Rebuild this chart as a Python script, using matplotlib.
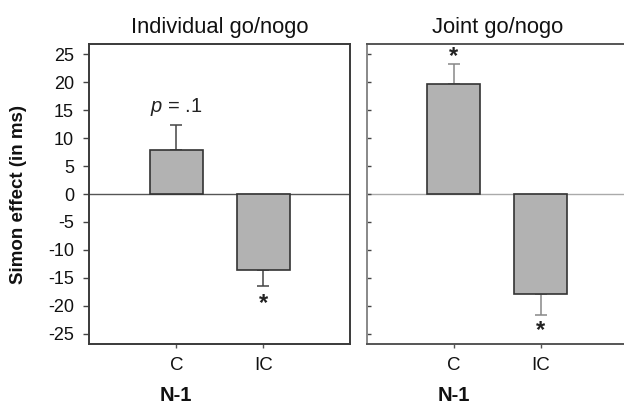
import matplotlib
matplotlib.use("Agg")
import matplotlib.pyplot as plt

plt.rcParams['font.family'] = ['Liberation Sans', 'DejaVu Sans']
plt.rcParams['mathtext.fontset'] = 'custom'
plt.rcParams['mathtext.it'] = 'Liberation Sans:italic'
plt.rcParams['mathtext.rm'] = 'Liberation Sans'

# ---- data ----
conditions = ['C', 'IC']
panel_titles = ['Individual go/nogo', 'Joint go/nogo']
individual_means = [7.8, -13.5]
individual_err = [4.5, 3.0]
joint_means = [19.6, -17.9]
joint_err = [3.6, 3.7]
individual_marks = [r'$\it{p}$ = .1', '*']
individual_mark_y = [15.5, -19.5]
joint_marks = ['*', '*']
joint_mark_y = [24.6, -24.4]
y_ticks = [25, 20, 15, 10, 5, 0, -5, -10, -15, -20, -25]
y_label = 'Simon effect (in ms)'
x_label = 'N-1'

fig = plt.figure(figsize=(6.24, 4.08), dpi=100)
ax1 = fig.add_axes([89.3 / 624, 1 - 344 / 408, 261 / 624, 300 / 408])
ax2 = fig.add_axes([366.7 / 624, 1 - 344 / 408, 261 / 624, 300 / 408])

x = [1, 2]
bar_color = '#b2b2b2'

def draw_panel(ax, means, errs, marks, mark_y, title, spine_col, zero_col, err_col, left_labels):
    lower = [0 if m > 0 else e for m, e in zip(means, errs)]
    upper = [e if m > 0 else 0 for m, e in zip(means, errs)]
    ax.errorbar(x, means, yerr=[lower, upper], fmt='none', ecolor=err_col,
                elinewidth=1.1, capsize=4, capthick=1.1, zorder=1)
    ax.bar(x, means, width=0.61, color=bar_color, edgecolor='#333333',
           linewidth=1.2, zorder=2)
    ax.axhline(0, color=zero_col, linewidth=1.0, zorder=1.5)
    for xi, mk, my in zip(x, marks, mark_y):
        if mk == '*':
            ax.text(xi, my, mk, ha='center', va='center', fontsize=17,
                    fontweight='bold', color='#222222')
        else:
            ax.text(xi, my, mk, ha='center', va='center', fontsize=14.5,
                    color='#222222')
    ax.set_xlim(0, 3)
    ax.set_ylim(-26.8, 26.8)
    ax.set_xticks(x)
    ax.set_xticklabels(conditions, fontsize=13.5)
    ax.set_yticks(y_ticks)
    ax.tick_params(axis='x', direction='out', length=3, width=1, pad=6,
                   color='#555555', labelcolor='#111111')
    ax.set_title(title, fontsize=15.8, pad=8, color='#111111')
    ax.set_xlabel(x_label, fontsize=14.5, fontweight='bold', labelpad=5,
                  color='#111111')
    ax.xaxis.set_label_coords(1 / 3, -0.14)
    if left_labels:
        ax.set_yticklabels([str(t) for t in y_ticks], fontsize=13)
        ax.tick_params(axis='y', direction='out', length=4, width=1, pad=7,
                       color='#444444', labelcolor='#111111')
    else:
        ax.set_yticklabels([])
        ax.tick_params(axis='y', direction='in', length=3, width=1,
                       color='#444444')
    for s in ax.spines.values():
        s.set_color(spine_col)
        s.set_linewidth(1.4)

draw_panel(ax1, individual_means, individual_err, individual_marks,
           individual_mark_y, panel_titles[0], '#3a3a3a', '#555555', '#444444', True)
draw_panel(ax2, joint_means, joint_err, joint_marks, joint_mark_y,
           panel_titles[1], '#555555', '#aaaaaa', '#888888', False)
ax2.spines['right'].set_visible(False)
ax2.spines['left'].set_color('#888888')

fig.text(19 / 624, 1 - 194 / 408, y_label, rotation=90, ha='center',
         va='center', fontsize=13.5, fontweight='bold', color='#111111')

fig.savefig('out.png', dpi=100)
